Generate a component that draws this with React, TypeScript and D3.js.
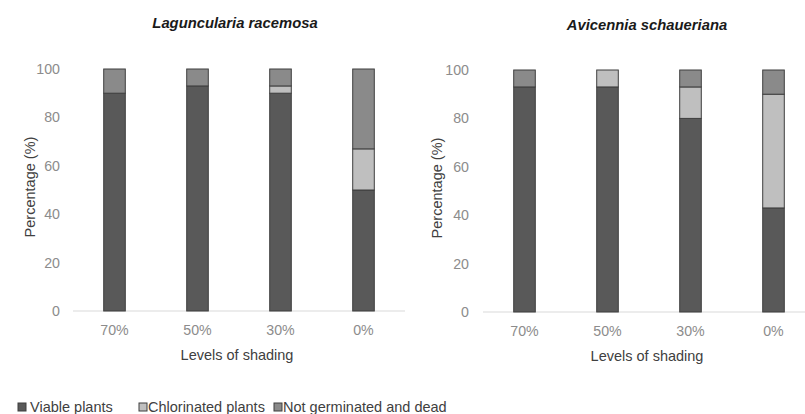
import React from "react";
import * as d3 from "d3";

const categories = ["70%", "50%", "30%", "0%"];
const seriesNames = ["Viable plants", "Chlorinated plants", "Not germinated and dead"];
const lagViable = [90, 93, 90, 50];
const lagChlor = [0, 0, 3, 17];
const lagDead = [10, 7, 7, 33];
const aviViable = [93, 93, 80, 43];
const aviChlor = [0, 7, 13, 47];
const aviDead = [7, 0, 7, 10];
const yTicks = [0, 20, 40, 60, 80, 100];
const colors = ["#595959", "#bfbfbf", "#8a8a8a"];
const FONT = "Liberation Sans, Arial, sans-serif";

type PanelProps = {
  title: string;
  viable: number[];
  chlor: number[];
  dead: number[];
  x0: number;
  x1: number;
  yBase: number;
  yTop: number;
  tickRight: number;
  labelX: number;
  titleX: number;
  titleY: number;
};

function Panel(p: PanelProps) {
  const x = d3.scaleBand<string>().domain(categories).range([p.x0, p.x1]).paddingInner(0.74).paddingOuter(0.37);
  const y = d3.scaleLinear().domain([0, 100]).range([p.yBase, p.yTop]);
  const rows = categories.map((c, i) => ({ cat: c, v: p.viable[i], c: p.chlor[i], d: p.dead[i] }));
  const stack = d3.stack<any>().keys(["v", "c", "d"])(rows);
  const midX = (p.x0 + p.x1) / 2;
  return (
    <g>
      <text x={p.titleX} y={p.titleY} dy="0.35em" textAnchor="middle" fontFamily={FONT} fontSize={14.8} fontWeight="bold" fontStyle="italic" fill="#1a1a1a">{p.title}</text>
      <line x1={p.x0} x2={p.x1} y1={y(0)} y2={y(0)} stroke="#d9d9d9" strokeWidth={1} />
      {yTicks.map((t) => (
        <text key={t} x={p.tickRight} y={y(t)} dy="0.35em" textAnchor="end" fontFamily={FONT} fontSize={14.2} fill="#8c8c8c">{t}</text>
      ))}
      {categories.map((c) => (
        <text key={c} x={(x(c) as number) + x.bandwidth() / 2} y={p.yBase + 19} dy="0.35em" textAnchor="middle" fontFamily={FONT} fontSize={14.2} fill="#8c8c8c">{c}</text>
      ))}
      <text x={midX - 2} y={p.yBase + 44} dy="0.35em" textAnchor="middle" fontFamily={FONT} fontSize={14.5} fill="#404040">Levels of shading</text>
      <text transform={`translate(${p.labelX},${(p.yBase + p.yTop) / 2 - 3}) rotate(-90)`} textAnchor="middle" dy="0.35em" fontFamily={FONT} fontSize={14.5} fill="#404040">Percentage (%)</text>
      {stack.map((s, si) => (
        <g key={si}>
          {s.map((seg, i) =>
            seg[1] - seg[0] > 0 ? (
              <rect key={i} x={x(rows[i].cat)} width={x.bandwidth()} y={y(seg[1])} height={y(seg[0]) - y(seg[1])} fill={colors[si]} stroke="#3f3f3f" strokeWidth={1} />
            ) : null
          )}
        </g>
      ))}
    </g>
  );
}

export default function App() {
  const legendX = [18, 139, 274];
  return (
    <svg width={805} height={414} style={{ position: "absolute", left: 0, top: 0, background: "#fff" }}>
      <Panel title="Laguncularia racemosa" viable={lagViable} chlor={lagChlor} dead={lagDead} x0={73} x1={405} yBase={311} yTop={69} tickRight={60} labelX={30} titleX={235} titleY={23} />
      <Panel title="Avicennia schaueriana" viable={aviViable} chlor={aviChlor} dead={aviDead} x0={483} x1={815} yBase={312} yTop={70} tickRight={469} labelX={437} titleX={647} titleY={25} />
      {seriesNames.map((n, i) => (
        <g key={n}>
          <rect x={legendX[i]} y={403} width={8} height={8} fill={colors[i]} stroke="#3f3f3f" strokeWidth={1} />
          <text x={legendX[i] + (i === 0 ? 12 : 9)} y={407} dy="0.35em" fontFamily={FONT} fontSize={14.5} fill="#404040">{n}</text>
        </g>
      ))}
    </svg>
  );
}
